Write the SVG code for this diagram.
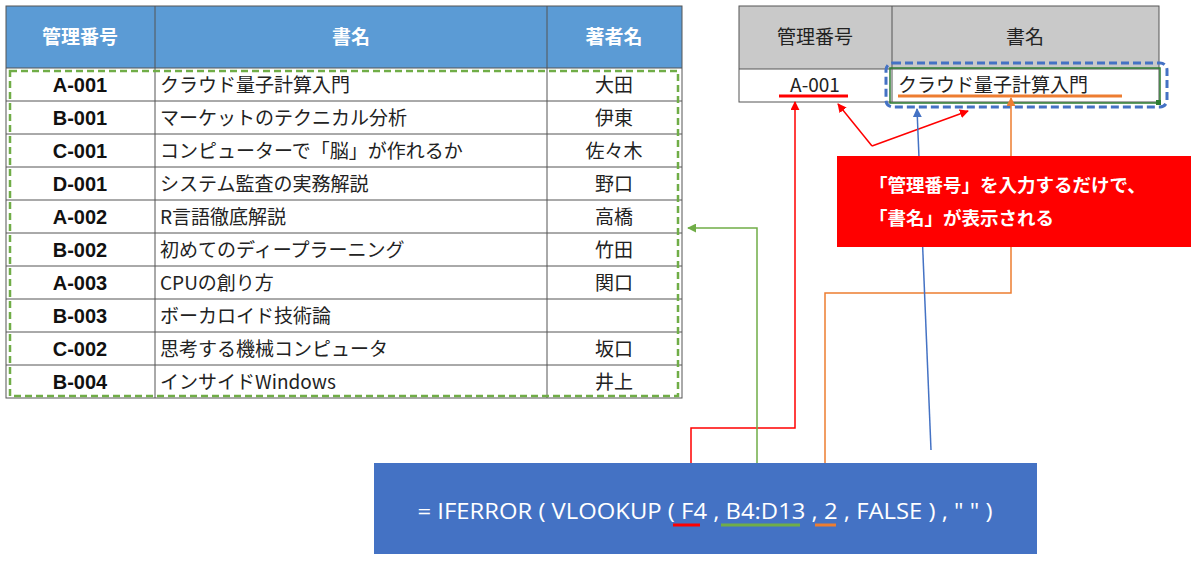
<svg xmlns="http://www.w3.org/2000/svg" width="1200" height="564" viewBox="0 0 1200 564">
<style>
.jp{font-family:"Noto Sans CJK JP","Noto Sans",sans-serif;font-size:19px;fill:#222}
.id{font-family:"Liberation Sans",sans-serif;font-weight:bold;font-size:20px;fill:#111;text-anchor:middle}
.hd{font-family:"Noto Sans CJK JP",sans-serif;font-weight:bold;font-size:19px;fill:#fff;text-anchor:middle}
.grid{stroke:#555;stroke-width:1;fill:none}
.ln{fill:none;stroke-width:1.5}
</style>
<defs>
<marker id="ar-r" viewBox="0 0 10 10" refX="9" refY="5" markerWidth="6" markerHeight="6" orient="auto"><path d="M0,0L10,5L0,10z" fill="#f00"/></marker>
<marker id="ar-g" viewBox="0 0 10 10" refX="9" refY="5" markerWidth="6" markerHeight="6" orient="auto"><path d="M0,0L10,5L0,10z" fill="#70ad47"/></marker>
<marker id="ar-o" viewBox="0 0 10 10" refX="9" refY="5" markerWidth="6" markerHeight="6" orient="auto"><path d="M0,0L10,5L0,10z" fill="#ed7d31"/></marker>
<marker id="ar-b" viewBox="0 0 10 10" refX="9" refY="5" markerWidth="6" markerHeight="6" orient="auto"><path d="M0,0L10,5L0,10z" fill="#4472c4"/></marker>
</defs>
<rect width="1200" height="564" fill="#fff"/>
<g id="main-table">
<rect x="6" y="6" width="676" height="62" fill="#5b9bd5"/>
<rect x="6" y="6" width="676" height="392" class="grid"/>
<path class="grid" d="M155,6V398M547,6V398M6,68H682M6,101H682M6,134H682M6,167H682M6,200H682M6,233H682M6,266H682M6,299H682M6,332H682M6,365H682"/>
<text class="hd" x="80" y="44">管理番号</text><text class="hd" x="351" y="44">書名</text><text class="hd" x="614" y="44">著者名</text>
<g class="id">
<text x="80" y="92">A-001</text><text x="80" y="125">B-001</text><text x="80" y="158">C-001</text><text x="80" y="191">D-001</text><text x="80" y="224">A-002</text><text x="80" y="257">B-002</text><text x="80" y="290">A-003</text><text x="80" y="323">B-003</text><text x="80" y="356">C-002</text><text x="80" y="389">B-004</text>
</g>
<g class="jp">
<text x="160" y="92">クラウド量子計算入門</text><text x="160" y="125">マーケットのテクニカル分析</text><text x="160" y="158">コンピューターで「脳」が作れるか</text><text x="160" y="191">システム監査の実務解説</text><text x="160" y="224">R言語徹底解説</text><text x="160" y="257">初めてのディープラーニング</text><text x="160" y="290">CPUの創り方</text><text x="160" y="323">ボーカロイド技術論</text><text x="160" y="356">思考する機械コンピュータ</text><text x="160" y="389">インサイドWindows</text>
</g>
<g class="jp" text-anchor="middle">
<text x="614" y="92">大田</text><text x="614" y="125">伊東</text><text x="614" y="158">佐々木</text><text x="614" y="191">野口</text><text x="614" y="224">高橋</text><text x="614" y="257">竹田</text><text x="614" y="290">関口</text><text x="614" y="356">坂口</text><text x="614" y="389">井上</text>
</g>
<rect x="10" y="71" width="668" height="325" fill="none" stroke="#70ad47" stroke-width="2.5" stroke-dasharray="7,4"/>
</g>
<g id="lookup-table">
<rect x="739" y="6" width="420" height="63" fill="#c9c9c9"/>
<rect x="739" y="6" width="420" height="96" class="grid"/>
<path class="grid" d="M892,6V102M739,69H1159"/>
<text class="jp" x="815" y="44" text-anchor="middle" fill="#333">管理番号</text>
<text class="jp" x="1025" y="44" text-anchor="middle" fill="#333">書名</text>
<text class="jp" x="815" y="92" text-anchor="middle" font-family="Liberation Sans,sans-serif" font-size="20">A-001</text>
<text class="jp" x="898" y="92">クラウド量子計算入門</text>
<line x1="779" y1="96" x2="848" y2="96" stroke="#f00" stroke-width="3"/>
<line x1="898" y1="96" x2="1122" y2="96" stroke="#ed7d31" stroke-width="3"/>
<rect x="890" y="68" width="270" height="35" fill="none" stroke="#2e7d32" stroke-width="1.5"/>
<rect x="1156" y="100" width="5" height="5" fill="#2e7d32"/>
<rect x="886" y="63" width="281" height="44" rx="7" fill="none" stroke="#4472c4" stroke-width="3" stroke-dasharray="8,4"/>
</g>
<g id="connectors">
<path class="ln" stroke="#f00" d="M691,495V428H795V102" marker-end="url(#ar-r)"/>
<path class="ln" stroke="#f00" d="M872,146L838,104" marker-end="url(#ar-r)"/>
<path class="ln" stroke="#f00" d="M872,146L968,111" marker-end="url(#ar-r)"/>
<path class="ln" stroke="#70ad47" d="M757,488V228H688" marker-end="url(#ar-g)"/>
<path class="ln" stroke="#ed7d31" d="M825,488V293H1011V98" marker-end="url(#ar-o)"/>
<path class="ln" stroke="#4472c4" d="M931,450L917,109" marker-end="url(#ar-b)"/>
</g>
<g id="callout">
<rect x="837" y="156" width="354" height="91" fill="#f00"/>
<text x="869" y="192" font-family="Noto Sans CJK JP,sans-serif" font-weight="bold" font-size="18.5" fill="#fff">「管理番号」を入力するだけで、</text>
<text x="869" y="225" font-family="Noto Sans CJK JP,sans-serif" font-weight="bold" font-size="18.5" fill="#fff">「書名」が表示される</text>
</g>
<g id="formula">
<rect x="374" y="463" width="663" height="91" fill="#4472c4"/>
<text x="705" y="519" text-anchor="middle" font-family="Open Sans,sans-serif" font-size="21" fill="#fff" textLength="575" lengthAdjust="spacingAndGlyphs">= IFERROR ( VLOOKUP ( F4 , B4:D13 , 2 , FALSE ) , " " )</text>
<line x1="673" y1="525" x2="700" y2="525" stroke="#f00" stroke-width="3"/>
<line x1="721" y1="525" x2="800" y2="525" stroke="#70ad47" stroke-width="3"/>
<line x1="815" y1="525" x2="836" y2="525" stroke="#ed7d31" stroke-width="3"/>
</g>
</svg>
